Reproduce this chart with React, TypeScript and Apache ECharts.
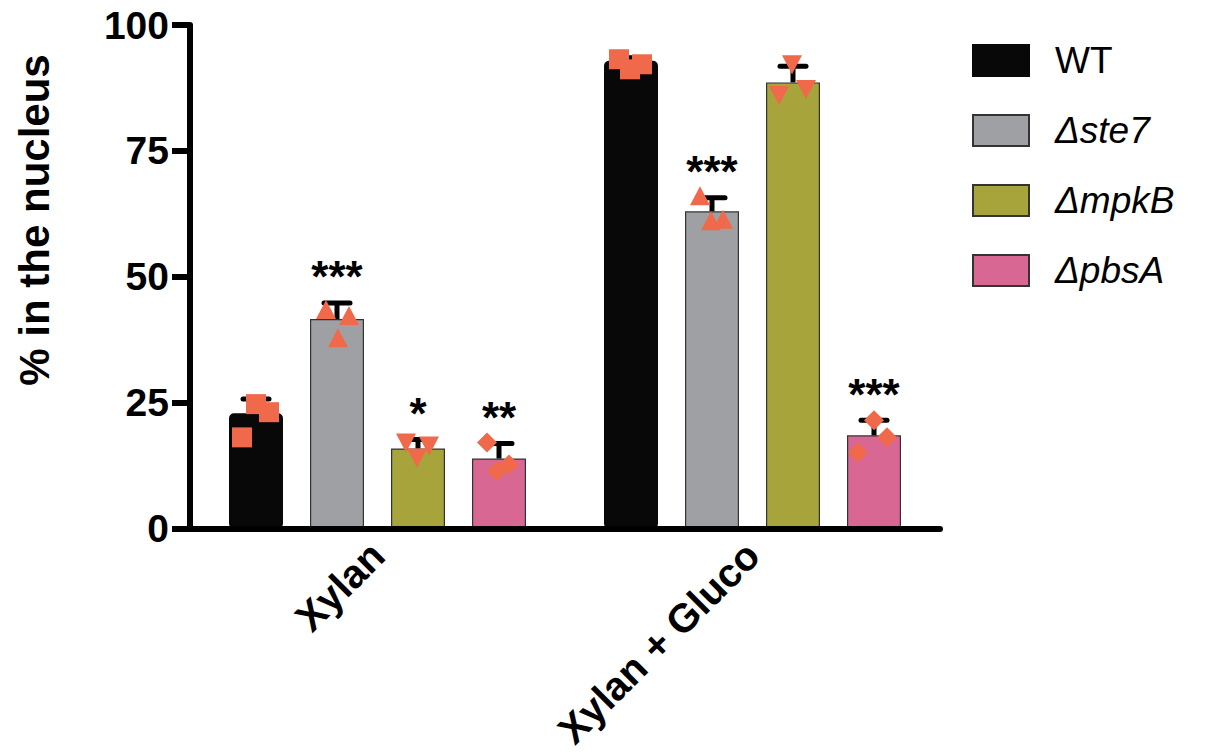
import React, { useEffect, useRef } from "react";
import * as echarts from "echarts";

const categories = ["Xylan", "Xylan + Gluco"];
const strains = ["WT", "Δste7", "ΔmpkB", "ΔpbsA"];
const barColors = ["#080808", "#9fa0a4", "#a6a43a", "#d96794"];

// mean values per strain for [Xylan, Xylan + Gluco]
const meanWT = [22.9, 92.9];
const meanSte7 = [41.6, 63.0];
const meanMpkB = [15.9, 88.6];
const meanPbsA = [13.9, 18.5];

// upper error (SD)
const errWT = [2.8, 0.6];
const errSte7 = [3.2, 2.7];
const errMpkB = [1.8, 3.2];
const errPbsA = [3.0, 3.0];

// significance marks
const sigWT = ["", ""];
const sigSte7 = ["***", "***"];
const sigMpkB = ["*", ""];
const sigPbsA = ["**", "***"];

// individual replicates: [categoryIndex, value, jitter(px)]
const repWT = [[0, 24.7, 0], [0, 23.1, 13], [0, 18.1, -14], [1, 93.2, -12], [1, 92.2, 11], [1, 91.2, -1]];
const repSte7 = [[0, 43.4, -11], [0, 42.2, 12], [0, 37.8, 1], [1, 66.0, -12], [1, 61.0, -1], [1, 61.3, 11]];
const repMpkB = [[0, 17.1, -12], [0, 16.5, 11], [0, 14.1, -1], [1, 92.2, -1], [1, 86.1, -14], [1, 87.3, 13]];
const repPbsA = [[0, 17.1, -12], [0, 12.7, 10], [0, 11.4, -2], [1, 21.5, 0], [1, 18.1, 13], [1, 15.1, -16]];

const means = [meanWT, meanSte7, meanMpkB, meanPbsA];
const errs = [errWT, errSte7, errMpkB, errPbsA];
const sigs = [sigWT, sigSte7, sigMpkB, sigPbsA];
const reps = [repWT, repSte7, repMpkB, repPbsA];

const BAR_W = 54;
const BAR_GAP = 0.5;
const POINT_COLOR = "#f0694a";
const FONT = "Arial, 'Liberation Sans', Helvetica, sans-serif";

function barOffset(i: number) {
  return (i - (strains.length - 1) / 2) * BAR_W * (1 + BAR_GAP);
}

function markerShape(i: number, x: number, y: number) {
  const s = 10;
  const style = { fill: POINT_COLOR };
  if (i === 0) {
    return { type: "rect", shape: { x: x - s, y: y - s, width: 2 * s, height: 2 * s }, style };
  }
  if (i === 1) {
    return { type: "polygon", shape: { points: [[x, y - s], [x + s, y + s * 0.9], [x - s, y + s * 0.9]] }, style };
  }
  if (i === 2) {
    return { type: "polygon", shape: { points: [[x - s, y - s * 0.9], [x + s, y - s * 0.9], [x, y + s]] }, style };
  }
  return { type: "polygon", shape: { points: [[x, y - s], [x + s, y], [x, y + s], [x - s, y]] }, style };
}

export default function App() {
  const ref = useRef<HTMLDivElement>(null);
  useEffect(() => {
    if (!ref.current) return;
    const chart = echarts.init(ref.current, undefined, { renderer: "svg" });

    const barSeries = strains.map((name, i) => ({
      name,
      type: "bar",
      data: means[i],
      barWidth: BAR_W,
      barGap: BAR_GAP * 100 + "%",
      z: 2,
      itemStyle:
        i === 0
          ? { color: barColors[0], borderColor: barColors[0], borderWidth: 4, borderRadius: 3 }
          : { color: barColors[i], borderColor: "#333333", borderWidth: 1.2 },
    }));

    const errSeries = strains.map((name, i) => ({
      name: name + " error",
      type: "custom",
      z: 5,
      data: categories.map((c, k) => [k, means[i][k], errs[i][k]]),
      encode: { x: 0, y: 1 },
      renderItem: (params: any, api: any) => {
        const k = api.value(0);
        const m = api.value(1);
        const e = api.value(2);
        const sig = sigs[i][k];
        const base = api.coord([k, m]);
        const top = api.coord([k, m + e]);
        const cx = base[0] + barOffset(i);
        const children: any[] = [
          { type: "line", shape: { x1: cx, y1: base[1], x2: cx, y2: top[1] }, style: { stroke: "#000", lineWidth: 5 } },
          { type: "line", shape: { x1: cx - 13, y1: top[1], x2: cx + 13, y2: top[1] }, style: { stroke: "#000", lineWidth: 5, lineCap: "round" } },
        ];
        if (sig) {
          children.push({
            type: "text",
            style: {
              x: cx,
              y: top[1] - 26,
              text: sig,
              fill: "#000",
              font: "bold 44px " + FONT,
              align: "center",
              verticalAlign: "middle",
            },
          });
        }
        return { type: "group", children };
      },
    }));

    const pointSeries = strains.map((name, i) => ({
      name: name + " points",
      type: "custom",
      z: 8,
      data: reps[i],
      encode: { x: 0, y: 1 },
      renderItem: (params: any, api: any) => {
        const k = api.value(0);
        const v = api.value(1);
        const j = api.value(2);
        const p = api.coord([k, v]);
        return markerShape(i, p[0] + barOffset(i) + j, p[1]);
      },
    }));

    chart.setOption({
      animation: false,
      backgroundColor: "#ffffff",
      grid: { left: 190, top: 25, width: 750, height: 503.5 },
      legend: {
        data: strains,
        orient: "vertical",
        left: 967,
        top: 37,
        itemWidth: 56,
        itemHeight: 31,
        itemGap: 33,
        icon: "rect",
        selectedMode: false,
        formatter: (n: string) => (n === "WT" ? "{n|" + n + "}" : "{i|" + n + "}"),
        textStyle: {
          rich: {
            n: { fontFamily: FONT, fontSize: 37, color: "#000", lineHeight: 40, padding: [0, 0, 0, 21] },
            i: { fontFamily: FONT, fontSize: 37, fontStyle: "italic", color: "#000", lineHeight: 40, padding: [0, 0, 0, 21] },
          },
        },
      },
      xAxis: {
        type: "category",
        data: categories,
        z: 10,
        axisLine: { lineStyle: { color: "#000", width: 6 } },
        axisTick: { alignWithLabel: true, length: 19, lineStyle: { color: "#000", width: 6 } },
        axisLabel: {
          rotate: 45,
          margin: 20,
          color: "#000",
          fontFamily: FONT,
          fontWeight: "bold",
          fontSize: 40,
        },
      },
      yAxis: {
        type: "value",
        min: 0,
        max: 100,
        interval: 25,
        z: 10,
        splitLine: { show: false },
        axisLine: { show: true, lineStyle: { color: "#000", width: 6 } },
        axisTick: { show: true, length: 18, lineStyle: { color: "#000", width: 6 } },
        axisLabel: { margin: 21, color: "#000", fontFamily: FONT, fontWeight: "bold", fontSize: 39 },
      },
      graphic: [
        {
          type: "text",
          x: 34,
          y: 220,
          rotation: Math.PI / 2,
          style: {
            text: "% in the nucleus",
            fill: "#000",
            font: "bold 42px " + FONT,
            align: "center",
            verticalAlign: "middle",
          },
        },
      ],
      series: [...barSeries, ...errSeries, ...pointSeries],
    });
    return () => chart.dispose();
  }, []);
  return <div ref={ref} style={{ position: "fixed", left: 0, top: 0, width: 1209, height: 755 }} />;
}
